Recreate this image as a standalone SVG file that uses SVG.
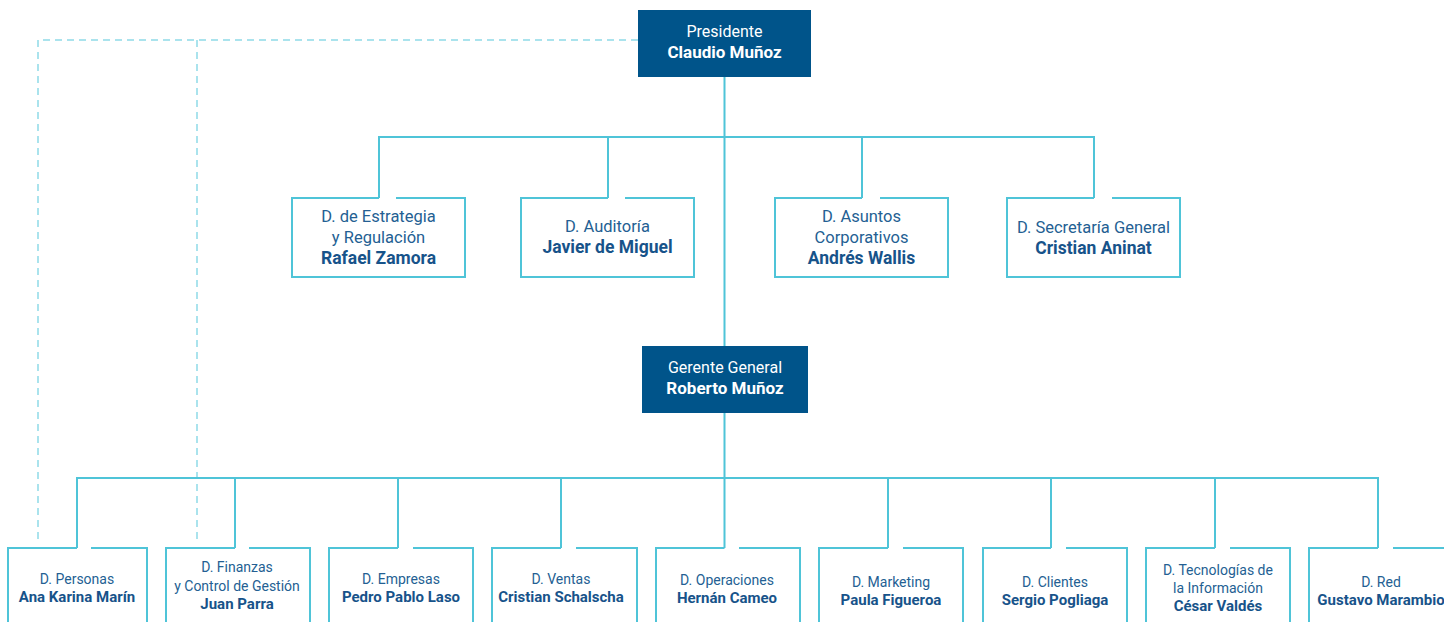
<svg xmlns="http://www.w3.org/2000/svg" width="1444" height="622" viewBox="0 0 1444 622">
<style>
.ln{fill:none;stroke:#4FC4D8;stroke-width:2}
.dash{fill:none;stroke:#8FDAE7;stroke-width:1.5;stroke-dasharray:7 5}
.bx{fill:none;stroke:#4FC4D8;stroke-width:2}
.dark{fill:#00548A}
text{font-family:"Roboto","Liberation Sans",sans-serif;text-anchor:middle}
.w{fill:#fff;font-size:16px}
.wb{fill:#fff;font-size:17px;font-weight:bold}
.t{fill:#245F93;font-size:16.5px}
.tb{fill:#17538A;font-size:17.5px;font-weight:bold}
.s{fill:#245F93;font-size:14px}
.sb{fill:#17538A;font-size:15px;font-weight:bold}
</style>
<rect width="1444" height="622" fill="#fff"/>
<g id="connectors">
<path class="dash" d="M638 40 H38 V541 M197 40 V541"/>
<path class="ln" d="M724.5 77 V346 M724.5 413 V548"/>
<path class="ln" d="M379 198 V137 H1094 V198 M608 137 V198 M862 137 V198"/>
<path class="ln" d="M77 548 V478 H1378 V548 M235 478 V548 M398 478 V548 M561 478 V548 M888 478 V548 M1051 478 V548 M1215 478 V548"/>
</g>
<g id="presidente">
<rect class="dark" x="638" y="10" width="173" height="67"/>
<text class="w" x="724.5" y="37">Presidente</text>
<text class="wb" x="724.5" y="58">Claudio Muñoz</text>
</g>
<g id="gerente">
<rect class="dark" x="642" y="346" width="166" height="67"/>
<text class="w" x="725" y="373">Gerente General</text>
<text class="wb" x="725" y="394">Roberto Muñoz</text>
</g>
<g id="estrategia">
<path class="bx" d="M396 198 H465 V277 H292 V198 H379"/>
<text class="t" x="378.5" y="222">D. de Estrategia</text>
<text class="t" x="378.5" y="243">y Regulación</text>
<text class="tb" x="378.5" y="264">Rafael Zamora</text>
</g>
<g id="auditoria">
<path class="bx" d="M625 198 H694 V277 H521 V198 H608"/>
<text class="t" x="607.5" y="232">D. Auditoría</text>
<text class="tb" x="607.5" y="253">Javier de Miguel</text>
</g>
<g id="asuntos">
<path class="bx" d="M880 198 H948 V277 H775 V198 H862"/>
<text class="t" x="861.5" y="222">D. Asuntos</text>
<text class="t" x="861.5" y="243">Corporativos</text>
<text class="tb" x="861.5" y="264">Andrés Wallis</text>
</g>
<g id="secretaria">
<path class="bx" d="M1112 198 H1180 V277 H1007 V198 H1094"/>
<text class="t" x="1093.5" y="233">D. Secretaría General</text>
<text class="tb" x="1093.5" y="254">Cristian Aninat</text>
</g>
<g id="personas">
<path class="bx" d="M91 548 H147 V640 H8 V548 H77"/>
<text class="s" x="77" y="584">D. Personas</text>
<text class="sb" x="77" y="602">Ana Karina Marín</text>
</g>
<g id="finanzas">
<path class="bx" d="M249 548 H310 V640 H166 V548 H235"/>
<text class="s" x="237" y="572">D. Finanzas</text>
<text class="s" x="237" y="591">y Control de Gestión</text>
<text class="sb" x="237" y="609">Juan Parra</text>
</g>
<g id="empresas">
<path class="bx" d="M413 548 H473 V640 H329 V548 H398"/>
<text class="s" x="401" y="584">D. Empresas</text>
<text class="sb" x="401" y="602">Pedro Pablo Laso</text>
</g>
<g id="ventas">
<path class="bx" d="M576 548 H637 V640 H492 V548 H561"/>
<text class="s" x="561" y="584">D. Ventas</text>
<text class="sb" x="561" y="602">Cristian Schalscha</text>
</g>
<g id="operaciones">
<path class="bx" d="M739 548 H800 V640 H656 V548 H724.5"/>
<text class="s" x="727" y="585">D. Operaciones</text>
<text class="sb" x="727" y="603">Hernán Cameo</text>
</g>
<g id="marketing">
<path class="bx" d="M903 548 H963 V640 H819 V548 H888"/>
<text class="s" x="891" y="587">D. Marketing</text>
<text class="sb" x="891" y="605">Paula Figueroa</text>
</g>
<g id="clientes">
<path class="bx" d="M1066 548 H1127 V640 H983 V548 H1051"/>
<text class="s" x="1055" y="587">D. Clientes</text>
<text class="sb" x="1055" y="605">Sergio Pogliaga</text>
</g>
<g id="tecnologias">
<path class="bx" d="M1230 548 H1290 V640 H1146 V548 H1215"/>
<text class="s" x="1218" y="575">D. Tecnologías de</text>
<text class="s" x="1218" y="593">la Información</text>
<text class="sb" x="1218" y="611">César Valdés</text>
</g>
<g id="red">
<path class="bx" d="M1393 548 H1453 V640 H1309 V548 H1378"/>
<text class="s" x="1381" y="587">D. Red</text>
<text class="sb" x="1381" y="605">Gustavo Marambio</text>
</g>
</svg>
